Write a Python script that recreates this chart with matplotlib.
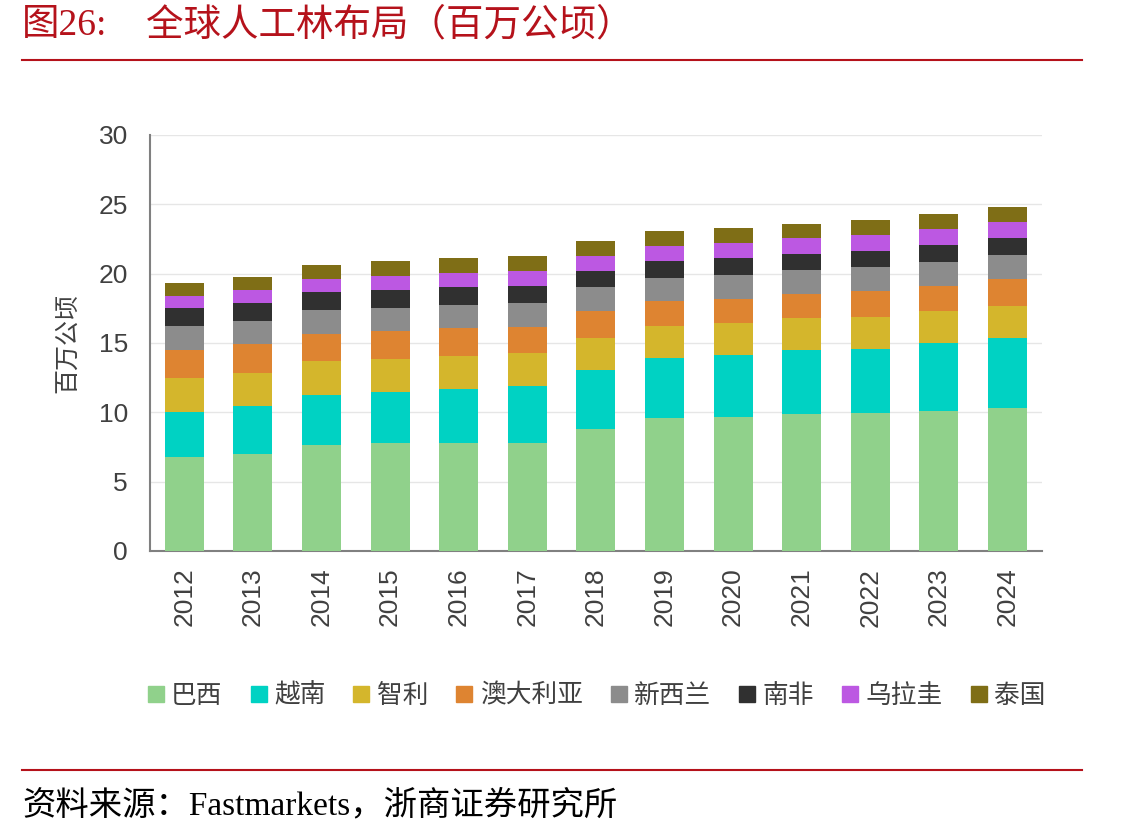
import numpy as np
import matplotlib
matplotlib.use('Agg')
import matplotlib.pyplot as plt
from matplotlib.lines import Line2D

plt.rcParams['font.family'] = ['Liberation Sans', 'Noto Sans CJK SC']

years = ['2012', '2013', '2014', '2015', '2016', '2017', '2018',
         '2019', '2020', '2021', '2022', '2023', '2024']
countries = ['巴西', '越南', '智利', '澳大利亚', '新西兰', '南非', '乌拉圭', '泰国']

brazil = [6.80, 6.99, 7.67, 7.76, 7.78, 7.81, 8.80, 9.57, 9.68, 9.86, 9.93, 10.12, 10.33]
vietnam = [3.24, 3.46, 3.58, 3.70, 3.90, 4.11, 4.27, 4.37, 4.43, 4.61, 4.66, 4.85, 5.03]
chile = [2.41, 2.41, 2.45, 2.38, 2.40, 2.33, 2.29, 2.28, 2.33, 2.31, 2.30, 2.31, 2.33]
australia = [2.02, 2.04, 1.97, 2.00, 1.98, 1.92, 1.92, 1.80, 1.75, 1.73, 1.83, 1.85, 1.90]
new_zealand = [1.73, 1.71, 1.73, 1.70, 1.68, 1.69, 1.73, 1.64, 1.71, 1.73, 1.73, 1.73, 1.73]
south_africa = [1.30, 1.29, 1.25, 1.26, 1.27, 1.27, 1.18, 1.23, 1.20, 1.17, 1.18, 1.20, 1.25]
uruguay = [0.91, 0.94, 0.98, 1.03, 1.01, 1.06, 1.08, 1.08, 1.08, 1.14, 1.15, 1.16, 1.15]
thailand = [0.89, 0.91, 0.97, 1.10, 1.13, 1.10, 1.08, 1.08, 1.09, 1.05, 1.06, 1.06, 1.08]

series = [brazil, vietnam, chile, australia, new_zealand, south_africa, uruguay, thailand]
colors = ['#90D18B', '#00D2C3', '#D4B62C', '#DE8431', '#8C8C8C', '#303030',
          '#BC58E2', '#7F6E16']

red = '#B5121B'
txt = '#404040'

fig = plt.figure(figsize=(11.41, 8.38), dpi=100)
ax = fig.add_axes([0.1315, 0.3425, 0.7815, 0.4965])

x = np.arange(len(years))
bottom = np.zeros(len(years))
for name, vals, c in zip(countries, series, colors):
    ax.bar(x, vals, 0.57, bottom=bottom, color=c, label=name, zorder=3)
    bottom += np.array(vals)

ax.set_ylim(0, 30)
ax.set_xlim(-0.5, len(years) - 0.5)
ax.set_yticks(range(0, 31, 5))
ax.set_xticks(x)
ax.set_xticklabels(years, rotation=90)
ax.tick_params(axis='both', length=0, labelsize=19, labelcolor=txt)
ax.tick_params(axis='y', pad=16)
ax.tick_params(axis='x', pad=12)
ax.yaxis.grid(True, color='#E6E6E6', lw=1, zorder=0)
for s in ['top', 'right']:
    ax.spines[s].set_visible(False)
for s in ['left', 'bottom']:
    ax.spines[s].set_color('#808080')
    ax.spines[s].set_linewidth(1.5)
ax.set_ylabel('百万公顷', fontsize=18, color=txt, labelpad=14)

handles = [Line2D([], [], marker='s', ls='', color=c, markersize=11) for c in colors]
fig.legend(handles, countries, loc='center', bbox_to_anchor=(0.522, 0.17), ncol=8,
           frameon=False, fontsize=18.5, handlelength=0.8, handletextpad=0.2,
           columnspacing=1.0, labelcolor=txt)

# header / footer
fig.add_artist(Line2D([22 / 1141, 1082 / 1141], [1 - 60 / 838, 1 - 60 / 838],
                      color=red, lw=1.5))
fig.add_artist(Line2D([22 / 1141, 1082 / 1141], [1 - 770 / 838, 1 - 770 / 838],
                      color=red, lw=1.5))
fig.text(22 / 1141, 1 - 26 / 838, '图26:', color=red,
         fontsize=27, va='center', ha='left',
         family=['Liberation Serif', 'Noto Sans CJK SC'])
fig.text(146 / 1141, 1 - 26 / 838, '全球人工林布局（百万公顷）', color=red,
         fontsize=27, va='center', ha='left',
         family=['Liberation Serif', 'Noto Sans CJK SC'])
fig.text(22 / 1141, 1 - 806 / 838, '资料来源：Fastmarkets，浙商证券研究所', color='black',
         fontsize=24, va='center', ha='left',
         family=['Liberation Serif', 'Noto Sans CJK SC'])

fig.savefig('out.png', dpi=100)
